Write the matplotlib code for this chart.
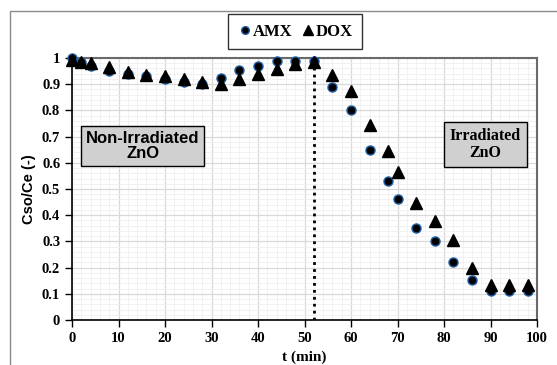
import matplotlib
matplotlib.use("Agg")
import matplotlib.pyplot as plt
from matplotlib.patches import Rectangle
from matplotlib.ticker import MultipleLocator

# sampling times (min)
t = [0, 2, 4, 8, 12, 16, 20, 24, 28, 32, 36, 40, 44, 48, 52,
     56, 60, 64, 68, 70, 74, 78, 82, 86, 90, 94, 98]

amx = [1.0, 0.985, 0.97, 0.95, 0.94, 0.93, 0.92, 0.91, 0.90, 0.925, 0.955, 0.97, 0.99, 0.99, 0.99,
       0.888, 0.80, 0.65, 0.53, 0.462, 0.352, 0.302, 0.22, 0.153, 0.112, 0.112, 0.112]

dox = [0.993, 0.985, 0.98, 0.965, 0.945, 0.935, 0.93, 0.92, 0.91, 0.90, 0.918, 0.938, 0.957, 0.977, 0.985,
       0.937, 0.875, 0.745, 0.645, 0.565, 0.448, 0.378, 0.307, 0.197, 0.135, 0.135, 0.135]

light_on = 52

SERIF = "Liberation Serif"
SANS = "Liberation Sans"

fig = plt.figure(figsize=(5.57, 3.65), dpi=100)
fig.patches.append(Rectangle((10 / 557, -0.1), 1.0, 1 - 11 / 365 + 0.1,
                             transform=fig.transFigure, fill=False,
                             edgecolor="#8a8a8a", linewidth=1.0))

ax = fig.add_axes([72 / 557, 45 / 365, 465 / 557, 262 / 365])

ax.set_xlim(0, 100)
ax.set_ylim(0, 1)
ax.xaxis.set_major_locator(MultipleLocator(10))
ax.xaxis.set_minor_locator(MultipleLocator(2))
ax.yaxis.set_major_locator(MultipleLocator(0.1))
ax.yaxis.set_minor_locator(MultipleLocator(0.02))
ax.grid(which="major", color="#d9d9d9", linewidth=0.9)
ax.grid(which="minor", color="#efefef", linewidth=0.6)
ax.set_axisbelow(True)
ax.tick_params(which="minor", length=0)
ax.tick_params(which="major", direction="out", length=5, width=1, color="black")

ax.set_yticks([i / 10 for i in range(11)])
ax.set_yticklabels(["0"] + [f"{i / 10:.1f}" for i in range(1, 10)] + ["1"])
for lab in ax.get_xticklabels() + ax.get_yticklabels():
    lab.set_fontfamily(SERIF)
    lab.set_fontweight("bold")
    lab.set_fontsize(10.5)

for side in ["left", "bottom"]:
    ax.spines[side].set_color("black")
    ax.spines[side].set_linewidth(1.2)
for side in ["top", "right"]:
    ax.spines[side].set_color("#6a6a6a")
    ax.spines[side].set_linewidth(1.5)

ax.plot([light_on, light_on], [0, 1], color="black", linestyle=(0, (1, 1.5)), linewidth=2)

ax.plot(t, amx, linestyle="none", marker="o", markersize=6.5,
        markerfacecolor="black", markeredgecolor="#1f5fa8", markeredgewidth=1.0,
        label="AMX", clip_on=False, zorder=3)
ax.plot(t, dox, linestyle="none", marker="^", markersize=8.5,
        markerfacecolor="black", markeredgecolor="black",
        label="DOX", clip_on=False, zorder=4)

ax.set_xlabel("t (min)", fontfamily=SERIF, fontweight="bold", fontsize=11, labelpad=4)
ax.set_ylabel("Cso/Ce (-)", fontfamily=SANS, fontweight="bold", fontsize=10.5, labelpad=4)

leg = ax.legend(loc="center", bbox_to_anchor=(223 / 465, 1 + 26.5 / 262), ncol=2,
                frameon=True, fancybox=False, handletextpad=0.0, columnspacing=0.5,
                handlelength=0.9, borderpad=0.55, markerscale=0.85,
                prop={"family": SERIF, "weight": "bold", "size": 12})
leg.get_frame().set_edgecolor("black")
leg.get_frame().set_linewidth(1.0)

ax.text(15.2, 0.664, "Non-Irradiated\nZnO", ha="center", va="center",
        fontfamily=SANS, fontweight="bold", fontsize=12, linespacing=1.0,
        bbox=dict(boxstyle="square,pad=0.3", facecolor="#d0d0d0", edgecolor="black", linewidth=1))
ax.text(88.9, 0.67, "Irradiated\nZnO", ha="center", va="center",
        fontfamily=SERIF, fontweight="bold", fontsize=11.5, linespacing=1.15,
        bbox=dict(boxstyle="square,pad=0.35", facecolor="#d0d0d0", edgecolor="black", linewidth=1))

fig.savefig("out.png", dpi=100)
